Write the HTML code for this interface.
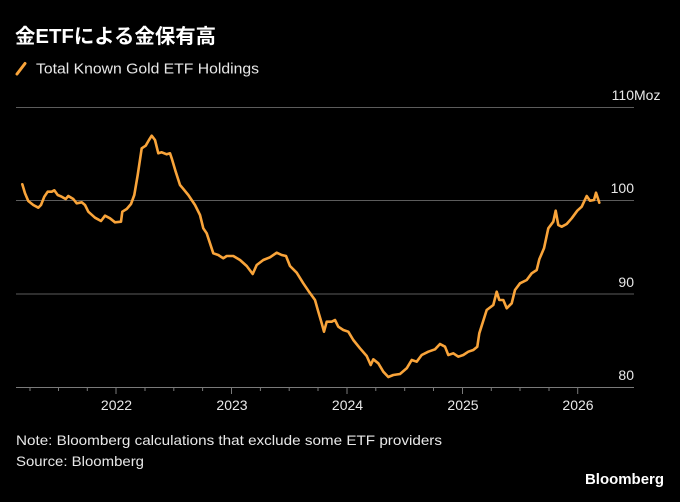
<!DOCTYPE html>
<html>
<head>
<meta charset="utf-8">
<style>
html,body{margin:0;padding:0;background:#000;}
svg{display:block;}
text{font-family:"Liberation Sans","Noto Sans CJK JP",sans-serif;}
</style>
</head>
<body>
<svg width="680" height="502" viewBox="0 0 680 502" xmlns="http://www.w3.org/2000/svg">
<rect x="0" y="0" width="680" height="502" fill="#000"/>
<text x="15" y="43" fill="#ffffff" font-size="20" font-weight="bold" textLength="201" lengthAdjust="spacingAndGlyphs">金ETFによる金保有高</text>
<line x1="17" y1="74" x2="25" y2="63.5" stroke="#f9a43a" stroke-width="3" stroke-linecap="round"/>
<text x="36" y="73.5" fill="#e8e8e8" font-size="15" textLength="223" lengthAdjust="spacingAndGlyphs">Total Known Gold ETF Holdings</text>

<g stroke="#5c5c5c" stroke-width="1">
<line x1="16" y1="107.5" x2="634" y2="107.5"/>
<line x1="16" y1="200.5" x2="634" y2="200.5"/>
<line x1="16" y1="294" x2="634" y2="294"/>
</g>
<line x1="16" y1="387.5" x2="634" y2="387.5" stroke="#7a7a7a" stroke-width="1"/>
<g stroke="#7a7a7a" stroke-width="1">
<line x1="30" y1="387" x2="30" y2="391"/>
<line x1="58.5" y1="387" x2="58.5" y2="391"/>
<line x1="87.3" y1="387" x2="87.3" y2="391"/>
<line x1="116" y1="387" x2="116" y2="394"/>
<line x1="145" y1="387" x2="145" y2="391"/>
<line x1="173.8" y1="387" x2="173.8" y2="391"/>
<line x1="202.6" y1="387" x2="202.6" y2="391"/>
<line x1="231.5" y1="387" x2="231.5" y2="394"/>
<line x1="260.4" y1="387" x2="260.4" y2="391"/>
<line x1="289.2" y1="387" x2="289.2" y2="391"/>
<line x1="318" y1="387" x2="318" y2="391"/>
<line x1="347" y1="387" x2="347" y2="394"/>
<line x1="375.8" y1="387" x2="375.8" y2="391"/>
<line x1="404.7" y1="387" x2="404.7" y2="391"/>
<line x1="433.5" y1="387" x2="433.5" y2="391"/>
<line x1="462.5" y1="387" x2="462.5" y2="394"/>
<line x1="491.3" y1="387" x2="491.3" y2="391"/>
<line x1="520" y1="387" x2="520" y2="391"/>
<line x1="549" y1="387" x2="549" y2="391"/>
<line x1="577.7" y1="387" x2="577.7" y2="394"/>
</g>

<g fill="#e8e8e8" font-size="14" text-anchor="middle">
<text x="116.5" y="410">2022</text>
<text x="232" y="410">2023</text>
<text x="347.5" y="410">2024</text>
<text x="463" y="410">2025</text>
<text x="578" y="410">2026</text>
</g>
<g fill="#e8e8e8" font-size="14">
<text x="634" y="100" text-anchor="end">110</text>
<text x="634" y="100">Moz</text>
<text x="634" y="193" text-anchor="end">100</text>
<text x="634" y="287" text-anchor="end">90</text>
<text x="634" y="380" text-anchor="end">80</text>
</g>

<polyline fill="none" stroke="#f9a43a" stroke-width="2.6" stroke-linejoin="round" stroke-linecap="round" points="
22.3,184.3 25,193.3 28.3,201 33.3,205 38.3,207.7 41,205 44.3,196.7 47.7,191.7 51.7,191.7 54.3,190.3 57.7,195 61.7,196.7 65.7,199 68.3,196 73.3,199 76.7,203.3 81.7,202.3 85,205 88.3,211.7 95,217.7 101,221 105,215.7 110,218.3 115,222.3 121,221.7 122.3,211.7 126.7,209 131,204 134.3,195 137.7,175 141.7,148.3 145.7,145.7 149,140 151.7,135.7 155,140 158.3,153.3 161.7,152.3 166.7,154.3 170,153.3 171.7,158.3 175.7,171.7 180,185 182.3,187.7 188.3,195 195,205 200,215 203.3,228.3 206.7,233.3 210,243.3 213.3,253.3 218.3,255 223.3,258.3 226.7,256 233.3,256 240,260 246.7,266 252.7,274 256.7,265 263.3,260 270,257.3 276.7,252.7 281.7,255 286,256 290,266 296.7,272.7 303.3,283.3 308.3,290.7 315,300 318.3,311.7 321.7,323.3 324,331.7 326.7,321.7 331.7,321.7 335,320 338.3,326.7 343.3,330 348.3,331.7 353.3,340 360,348.3 366.7,356 370.7,365 373.3,359.3 378.3,363.3 383.3,371.7 388.3,377 393.3,375 400,374 406.7,368.3 411.7,360 416.7,361.7 421.7,355 428.3,351.7 435,349.3 440,344 445,346.7 448.3,355 453.3,353.3 458.3,356.7 463.3,355 468.3,351.7 473.3,350 477.3,346.7 479.3,333.3 486.7,310 493.3,305 496.7,291.7 499.3,300 503.3,300 506.7,308.3 511.7,303.3 515,290 520,283.3 526.7,280 531.7,273.3 536.7,270 539.3,259.3 544,248.3 548.3,228.3 553.3,221.7 555.7,210.7 558.3,225 561.7,226.7 566.7,224 571.7,218.3 577.3,210.7 581.7,206.7 586.7,196 590,200.7 594,200 596,192.7 599.3,202.7"/>

<g fill="#e8e8e8" font-size="14">
<text x="16" y="445" textLength="426" lengthAdjust="spacingAndGlyphs">Note: Bloomberg calculations that exclude some ETF providers</text>
<text x="16" y="466" textLength="128" lengthAdjust="spacingAndGlyphs">Source: Bloomberg</text>
</g>
<text x="585" y="484" fill="#ffffff" font-size="15" font-weight="bold" textLength="79" lengthAdjust="spacingAndGlyphs">Bloomberg</text>
</svg>
</body>
</html>
